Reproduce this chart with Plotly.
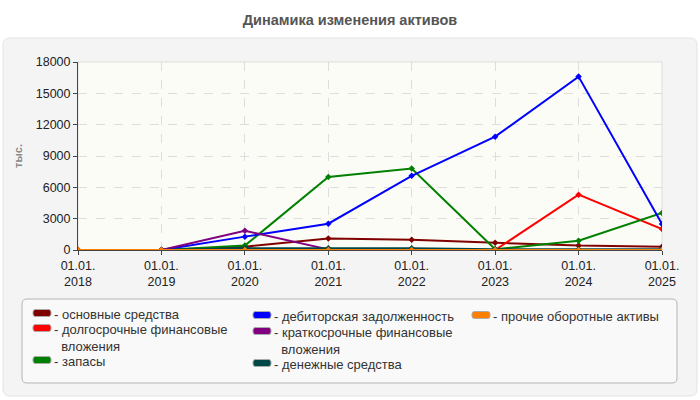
import plotly.graph_objects as go

# даты отчётности
years = [2018, 2019, 2020, 2021, 2022, 2023, 2024, 2025]
tick_labels = ["01.01.<br>" + str(y) for y in years]

# значения, тыс.
osnovnye = [0, 0, 320, 1100, 980, 700, 420, 320]
dolgosrochnye = [0, 0, 0, 0, 0, 0, 5300, 2000]
zapasy = [0, 0, 420, 7000, 7800, 70, 880, 3550]
debitorskaya = [0, 0, 1280, 2520, 7100, 10850, 16600, 2480]
kratkosrochnye = [0, 0, 1850, 60, 0, 0, 0, 0]
denezhnye = [0, 0, 180, 170, 160, 60, 60, 60]
prochie = [0, 0, 0, 0, 0, 0, 0, 0]

names = ["основные средства", "долгосрочные финансовые<br>вложения", "запасы",
         "дебиторская задолженность", "краткосрочные финансовые<br>вложения",
         "денежные средства", "прочие оборотные активы"]
values = [osnovnye, dolgosrochnye, zapasy, debitorskaya, kratkosrochnye, denezhnye, prochie]
colors = ["#800000", "#ff0000", "#008000", "#0000ff", "#800080", "#004848", "#ff8000"]

fig = go.Figure()

for name, vals, col in zip(names, values, colors):
    fig.add_trace(go.Scatter(x=years, y=vals, mode="lines+markers", name=name, showlegend=False,
                             line=dict(color=col, width=2),
                             marker=dict(symbol="diamond", size=5, color=col)))

# пиксели -> доли области построения
W, H, L, B = 584.0, 188.0, 78, 250


def px(x):
    return (x - L) / W


def py(y):
    return (B - y) / H


def rounded(x0, y0, x1, y1, r):
    a, b, c, d = px(x0), py(y1), px(x1), py(y0)
    rx, ry = r / W, r / H
    return (f"M {a+rx},{b} L {c-rx},{b} Q {c},{b} {c},{b+ry} "
            f"L {c},{d-ry} Q {c},{d} {c-rx},{d} L {a+rx},{d} "
            f"Q {a},{d} {a},{d-ry} L {a},{b+ry} Q {a},{b} {a+rx},{b} Z")


# серая подложка
fig.add_shape(type="path", path=rounded(3, 38, 697, 396, 7), xref="paper", yref="paper",
              layer="below", fillcolor="#f4f4f4", line=dict(color="#e4e4e4", width=1))
fig.add_shape(type="rect", xref="paper", yref="paper", x0=0, x1=1, y0=0, y1=1,
              layer="below", fillcolor="#fcfcf6", line=dict(color="#dddddd", width=1))

# рамка легенды
fig.add_shape(type="path", path=rounded(22, 299, 677, 383, 5), xref="paper", yref="paper",
              fillcolor="#f9f9f9", line=dict(color="#b4b4b4", width=1))

# легенда: колонка (x) и строка (y) для каждого ряда
leg_x = [33, 33, 33, 253, 253, 253, 472]
leg_y = [313, 328, 360, 315, 331, 363, 315]
for name, col, lx, ly in zip(names, colors, leg_x, leg_y):
    fig.add_shape(type="path", path=rounded(lx, ly - 3.5, lx + 18, ly + 3.5, 2.5),
                  xref="paper", yref="paper", fillcolor=col, line=dict(color="#aaaaaa", width=1))
    fig.add_annotation(x=px(lx + 19), y=py(ly - 8.5), xref="paper", yref="paper",
                       text="- " + name.replace("<br>", "<br>\u00a0\u00a0"), showarrow=False,
                       xanchor="left", yanchor="top", align="left",
                       font=dict(size=13, color="#333333"))

fig.update_layout(
    width=700,
    height=400,
    margin=dict(l=78, r=38, t=62, b=150, autoexpand=False),
    paper_bgcolor="white",
    plot_bgcolor="rgba(0,0,0,0)",
    font=dict(family="Liberation Sans, Arial", size=12, color="#222222"),
    title=dict(text="<b>Динамика изменения активов</b>", x=0.5, xref="container",
               xanchor="center", y=0.95, yanchor="middle",
               font=dict(size=14.5, color="#555555")),
    showlegend=False,
)

fig.update_xaxes(range=[2018, 2025], tickvals=years, ticktext=tick_labels,
                 showgrid=True, gridcolor="#dddddd", griddash="dash",
                 showline=True, linecolor="#444444", ticks="outside", ticklen=4,
                 tickcolor="#444444", zeroline=False, tickfont=dict(size=12.5))
fig.update_yaxes(range=[0, 18000], dtick=3000, tickformat="d", showgrid=True,
                 gridcolor="#dddddd", griddash="dash", showline=True, linecolor="#444444",
                 ticks="outside", ticklen=4, tickcolor="#444444", zeroline=False,
                 tickfont=dict(size=12.5),
                 title=dict(text="<b>тыс.</b>", font=dict(size=11, color="#888888"), standoff=10))

fig.write_html("out.html", config={"displayModeBar": False},
               post_script="document.body.style.margin='0';")
